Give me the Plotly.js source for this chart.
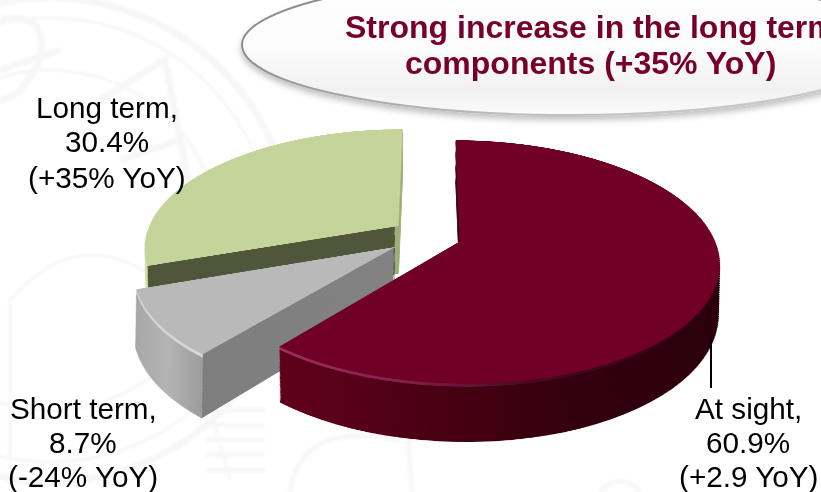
<!DOCTYPE html>
<html>
<head>
<meta charset="utf-8">
<script src="https://cdn.plot.ly/plotly-3.0.1.min.js"></script>
<style>
  html, body { margin: 0; padding: 0; background: #fff; overflow: hidden; }
  #backdrop, #chart { position: absolute; left: 0; top: 0; width: 821px; height: 492px; }
</style>
</head>
<body>
<!-- Faint seal watermark and the oval callout behind the chart -->
<svg id="backdrop" width="821" height="492" viewBox="0 0 821 492">
  <defs>
    <linearGradient id="ovalFill" x1="0" y1="0" x2="0" y2="1">
      <stop offset="0" stop-color="#ffffff"/>
      <stop offset="0.55" stop-color="#fbfbfb"/>
      <stop offset="0.82" stop-color="#f1f1f1"/>
      <stop offset="1" stop-color="#fbfbfb"/>
    </linearGradient>
    <linearGradient id="ovalEdge" x1="0" y1="0" x2="0.6" y2="1">
      <stop offset="0" stop-color="#8c8c8c"/>
      <stop offset="0.5" stop-color="#8f8f8f"/>
      <stop offset="1" stop-color="#c6c6c6"/>
    </linearGradient>
    <filter id="ovalShadow" x="-10%" y="-20%" width="120%" height="150%">
      <feDropShadow dx="0" dy="4" stdDeviation="3" flood-color="#000" flood-opacity="0.25"/>
    </filter>
    <filter id="soften"><feGaussianBlur stdDeviation="1.2"/></filter>
  </defs>
  <g fill="none" stroke="#f7f7f7" stroke-width="7" filter="url(#soften)">
    <circle cx="50" cy="240" r="242"/>
    <circle cx="50" cy="240" r="222" stroke-width="3"/>
    <circle cx="50" cy="240" r="170" stroke-width="3"/>
    <path d="M0 70 L60 50 M100 100 L165 60 L190 190 M120 160 L180 140 M0 20 Q50 10 40 60 Q20 100 0 100"/>
    <path d="M10 480 L10 300 Q90 210 180 300 L230 480" stroke-width="3"/>
    <path d="M290 492 Q300 420 400 440 M408 440 L412 492 M600 492 Q620 470 640 492" stroke-width="5"/>
    <path d="M205 410 H265 M205 425 H265 M205 440 H265 M205 455 H265 M205 470 H265" stroke-width="5"/>
  </g>
  <ellipse cx="570" cy="45" rx="328" ry="70" fill="url(#ovalFill)" stroke="url(#ovalEdge)" stroke-width="2" filter="url(#ovalShadow)"/>
</svg>
<div id="chart"></div>
<script>
// Deposit composition by maturity
const categories = ['At sight', 'Short term', 'Long term'];
const shares = [60.9, 8.7, 30.4];
const yoyChanges = ['+2.9 YoY', '-24% YoY', '+35% YoY'];
const headlineLines = ['Strong increase in the long term', 'components (+35% YoY)'];

const topColors = ['#700026', '#b9b9b9', '#c4d49b'];
const wallColors = ['#4a0012', '#8a8a8a', '#4f5639'];
const sliceOffsets = [0.13, 0.16, 0.15];
const wallDepths = [0.389, 0.43, 0.389];
const paintOrder = [2, 1, 0];

const W = 821, H = 492;
const topCentre = 0.57, topHalf = 0.43;
const radius = H * topHalf / (1 + Math.max(...sliceOffsets));
const wallSteps = 56, wallShrink = 0.07;

function layerTrace(sliceIndex, t) {
  const shift = wallDepths[sliceIndex] * radius * t / H;
  const half = topHalf * (1 - wallShrink * t);
  const paint = t === 0 ? topColors[sliceIndex] : wallColors[sliceIndex];
  return {
    type: 'pie',
    labels: categories,
    values: shares,
    sort: false,
    direction: 'clockwise',
    rotation: 0,
    pull: sliceOffsets,
    textinfo: 'none',
    hoverinfo: 'skip',
    domain: { x: [0, 1], y: [topCentre - shift - half, topCentre - shift + half] },
    marker: {
      colors: categories.map((_, i) => i === sliceIndex ? paint : 'rgba(0,0,0,0)'),
      line: { width: 0 }
    }
  };
}

// Each slice is extruded from a stack of pies, farthest slice first
const traces = [];
const layerInfo = [];
paintOrder.forEach(sliceIndex => {
  for (let k = wallSteps; k >= 0; k--) {
    traces.push(layerTrace(sliceIndex, k / wallSteps));
    layerInfo.push({ sliceIndex, k });
  }
});

function paper(x, y) { return { xref: 'paper', yref: 'paper', x: x / W, y: 1 - y / H }; }

function textLine(text, x, y, size, color) {
  return Object.assign(paper(x, y), {
    text, showarrow: false, xanchor: 'center', yanchor: 'middle', align: 'center',
    font: { family: 'Liberation Sans, Arial, sans-serif', size, color }
  });
}
// Three stacked lines per slice label, spaced more tightly than the default line height
function label(i, x, ys) {
  const lines = [categories[i] + ',', shares[i].toFixed(1) + '%', '(' + yoyChanges[i] + ')'];
  return lines.map((t, n) => textLine(t, x, ys[n], 29.7, '#000'));
}

const layout = {
  width: W, height: H,
  margin: { l: 0, r: 0, t: 0, b: 0 },
  paper_bgcolor: 'rgba(0,0,0,0)',
  plot_bgcolor: 'rgba(0,0,0,0)',
  showlegend: false,
  annotations: [
    textLine('<b>' + headlineLines[0] + '</b>', 590, 27, 32, '#76002b'),
    textLine('<b>' + headlineLines[1] + '</b>', 590, 63, 32, '#76002b'),
    ...label(2, 107, [108, 142, 177]),
    ...label(1, 83, [408, 442, 476]),
    ...label(0, 748, [408, 442, 476]),
    Object.assign(paper(711, 338), {
      text: ' ', showarrow: true, arrowhead: 0, arrowwidth: 2, arrowcolor: '#000',
      ax: 0, ay: 52, font: { size: 1 }, standoff: 0
    })
  ]
};

Plotly.newPlot('chart', traces, layout, { staticPlot: true, displayModeBar: false }).then(() => {
  const base = document.querySelector('#chart .main-svg');

  // Horizontal shading for the side walls
  const ns = 'http://www.w3.org/2000/svg';
  const defs = base.querySelector('defs') || base.insertBefore(document.createElementNS(ns, 'defs'), base.firstChild);
  const ramps = {
    wall0: [[0, '#5f001a'], [0.15, '#58001a'], [0.35, '#470012'], [0.6, '#33000e'], [1, '#2a000c']],
    rim0: [[0, '#9a3358'], [0.25, '#86204a'], [0.5, '#4a0a20'], [1, '#2a000c']],
    wall1: [[0, '#a6a6a6'], [0.18, '#b4b4b4'], [0.33, '#9c9c9c'], [0.33, '#7e7e7e'], [1, '#828282']],
    rim1: [[0, '#d4d4d4'], [0.33, '#d8d8d8'], [0.33, '#7e7e7e'], [1, '#828282']],
    wall2: [[0, '#cfdfa5'], [0.055, '#cfdfa5'], [0.055, '#4f5639'], [0.985, '#4f5639'], [0.985, '#9fae78'], [1, '#9fae78']]
  };
  Object.keys(ramps).forEach(id => {
    const g = document.createElementNS(ns, 'linearGradient');
    g.setAttribute('id', id);
    g.setAttribute('x1', '0'); g.setAttribute('x2', '1'); g.setAttribute('y1', '0'); g.setAttribute('y2', '0');
    ramps[id].forEach(([o, c]) => {
      const s = document.createElementNS(ns, 'stop');
      s.setAttribute('offset', o); s.setAttribute('stop-color', c);
      g.appendChild(s);
    });
    defs.appendChild(g);
  });

  const pies = base.querySelectorAll('.pielayer .trace');
  pies.forEach((pie, n) => {
    const info = layerInfo[n];
    if (info.k === 0) return;
    const path = pie.querySelectorAll('.slice path.surface')[info.sliceIndex];
    const rim = info.k <= 3 && info.sliceIndex < 2;
    path.style.fill = 'url(#' + (rim ? 'rim' : 'wall') + info.sliceIndex + ')';
  });

  // Tilt the pie plane back with a perspective mapping of the plot surface
  const cx = 429, cy = 236, spanX = 253, spanY = 116.5, k = 0.17;
  const Xo = W / 2, Yo = H * (1 - topCentre);
  const d4 = 1 + k * Yo / radius;
  const a1 = spanX / radius, a2 = -cx * k / radius, a4 = cx * d4 - spanX * Xo / radius;
  const b2 = (spanY - cy * k) / radius, b4 = cy * d4 - spanY * Yo / radius;
  const d2 = -k / radius;
  base.style.transformOrigin = '0 0';
  base.style.transform = 'matrix3d(' + [a1, 0, 0, 0, a2, b2, 0, d2, 0, 0, 1, 0, a4, b4, 0, d4].join(',') + ')';
});
</script>
</body>
</html>
